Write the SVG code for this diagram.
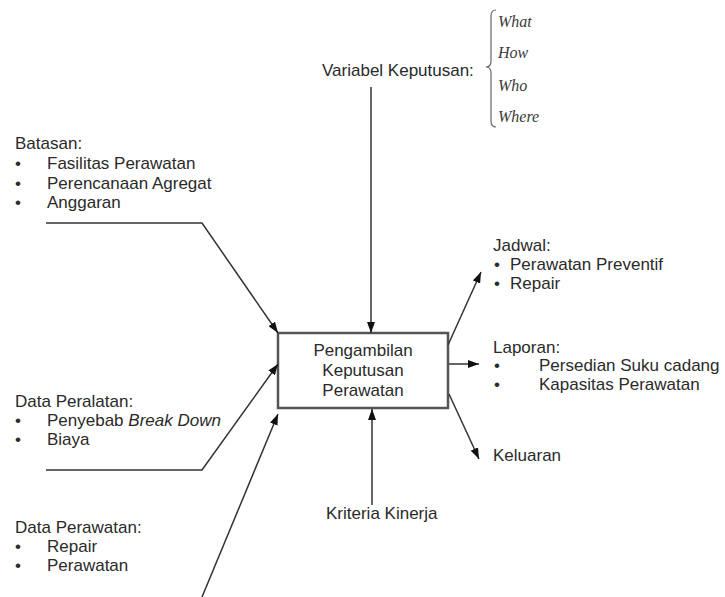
<svg xmlns="http://www.w3.org/2000/svg" width="725" height="597" viewBox="0 0 725 597">
<defs>
<style>
.t{font-family:"Liberation Sans",Arial,sans-serif;font-size:17px;fill:#2a2a2a}
.c{text-anchor:middle}
.s{font-family:"Liberation Serif","Times New Roman",serif;font-size:16px;font-style:italic;fill:#3a3a3a}
.ln{fill:none;stroke:#333;stroke-width:1.5}
.box{fill:#fff;stroke:#555;stroke-width:2.5}
</style>
<marker id="ah" viewBox="0 0 11 8" refX="11" refY="4" markerWidth="11" markerHeight="8" markerUnits="userSpaceOnUse" orient="auto">
<path d="M0,0 L11,4 L0,8 z" fill="#111"/>
</marker>
</defs>
<rect width="725" height="597" fill="#fff"/>

<g id="node-proses">
<rect class="box" x="278" y="333" width="170" height="75"/>
<text class="t c" x="363" y="356">Pengambilan</text>
<text class="t c" x="363" y="376">Keputusan</text>
<text class="t c" x="363" y="396">Perawatan</text>
</g>

<g id="node-variabel">
<text class="t" x="322" y="76">Variabel Keputusan:</text>
<path d="M496,10 Q491,10 491,16 L491,61 Q491,67 486,67 Q491,67 491,73 L491,121 Q491,127 496,127" fill="none" stroke="#666" stroke-width="1.2"/>
<text class="s" x="498" y="27">What</text>
<text class="s" x="498" y="58">How</text>
<text class="s" x="498" y="91">Who</text>
<text class="s" x="498" y="122">Where</text>
</g>

<g id="node-batasan">
<text class="t" x="15" y="149">Batasan:</text>
<text class="t" x="15" y="169">•</text><text class="t" x="47" y="169">Fasilitas Perawatan</text>
<text class="t" x="15" y="189">•</text><text class="t" x="47" y="189">Perencanaan Agregat</text>
<text class="t" x="15" y="208">•</text><text class="t" x="47" y="208">Anggaran</text>
</g>

<g id="node-peralatan">
<text class="t" x="15" y="407">Data Peralatan:</text>
<text class="t" x="15" y="426">•</text><text class="t" x="47" y="426">Penyebab <tspan font-style="italic">Break Down</tspan></text>
<text class="t" x="15" y="445">•</text><text class="t" x="47" y="445">Biaya</text>
</g>

<g id="node-perawatan">
<text class="t" x="15" y="533">Data Perawatan:</text>
<text class="t" x="15" y="552">•</text><text class="t" x="47" y="552">Repair</text>
<text class="t" x="15" y="571">•</text><text class="t" x="47" y="571">Perawatan</text>
</g>

<g id="node-kriteria">
<text class="t" x="326" y="519">Kriteria Kinerja</text>
</g>

<g id="node-jadwal">
<text class="t" x="493" y="251">Jadwal:</text>
<text class="t" x="494" y="270">•</text><text class="t" x="510" y="270">Perawatan Preventif</text>
<text class="t" x="494" y="289">•</text><text class="t" x="510" y="289">Repair</text>
</g>

<g id="node-laporan">
<text class="t" x="493" y="353">Laporan:</text>
<text class="t" x="494" y="371">•</text><text class="t" x="539" y="371">Persedian Suku cadang</text>
<text class="t" x="494" y="390">•</text><text class="t" x="539" y="390">Kapasitas Perawatan</text>
</g>

<g id="node-keluaran">
<text class="t" x="493" y="461">Keluaran</text>
</g>

<g id="connectors">
<line class="ln" x1="371" y1="87" x2="371" y2="333" marker-end="url(#ah)"/>
<line class="ln" x1="372" y1="505" x2="372" y2="409" marker-end="url(#ah)"/>
<polyline class="ln" points="46,223 202,223 278,333" marker-end="url(#ah)"/>
<polyline class="ln" points="46,470 202,470 278,364" marker-end="url(#ah)"/>
<line class="ln" x1="202" y1="597" x2="278" y2="414" marker-end="url(#ah)"/>
<line class="ln" x1="448" y1="345" x2="481" y2="272" marker-end="url(#ah)"/>
<line class="ln" x1="449" y1="364" x2="479" y2="364" marker-end="url(#ah)"/>
<line class="ln" x1="449" y1="394" x2="479" y2="459" marker-end="url(#ah)"/>
</g>
</svg>
